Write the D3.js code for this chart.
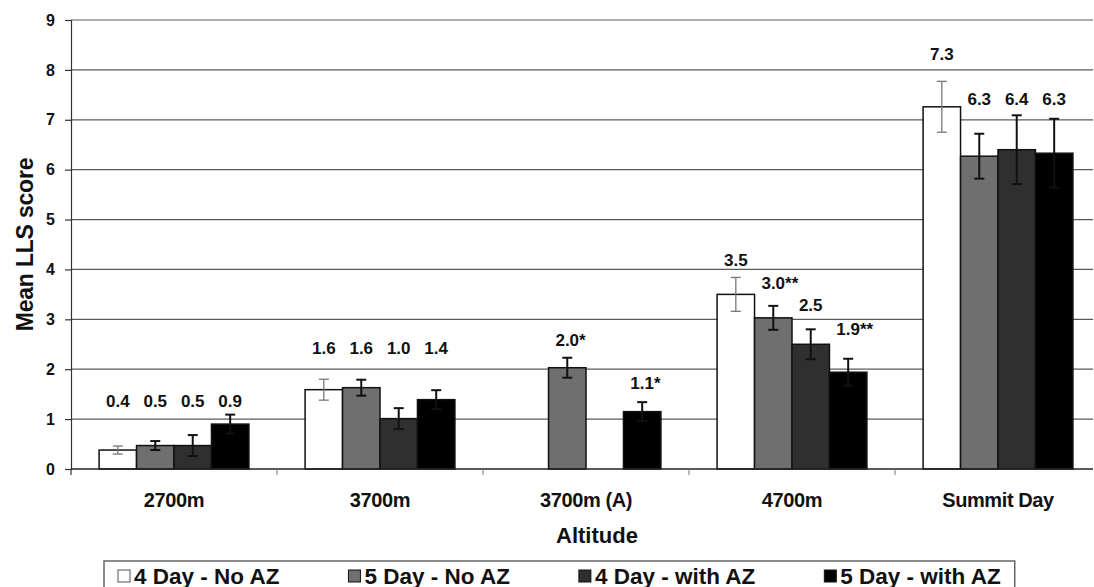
<!DOCTYPE html>
<html>
<head>
<meta charset="utf-8">
<title>Mean LLS score by altitude</title>
<style>
  body { margin: 0; background: #fff; }
  text { font-family: "Liberation Sans", Arial, sans-serif; }
</style>
</head>
<body>
<div id="chart"></div>
<script src="https://cdnjs.cloudflare.com/ajax/libs/d3/7.8.5/d3.min.js"></script>
<script>

// ---- data ----
var categories = ['2700m', '3700m', '3700m (A)', '4700m', 'Summit Day'];
var series = ['4 Day - No AZ', '5 Day - No AZ', '4 Day - with AZ', '5 Day - with AZ'];

// one array per series, one value per category (null = no bar)
var day4NoAZ   = [0.38, 1.59, null, 3.50, 7.26];
var day5NoAZ   = [0.47, 1.63, 2.03, 3.03, 6.27];
var day4WithAZ = [0.47, 1.01, null, 2.50, 6.40];
var day5WithAZ = [0.90, 1.39, 1.15, 1.94, 6.33];

// error (+/-)
var err4NoAZ   = [0.08, 0.21, null, 0.34, 0.51];
var err5NoAZ   = [0.09, 0.16, 0.20, 0.24, 0.45];
var err4WithAZ = [0.21, 0.21, null, 0.30, 0.69];
var err5WithAZ = [0.19, 0.19, 0.19, 0.27, 0.69];

// data labels and the level (in score units) where each one sits
var labels4NoAZ   = ['0.4', '1.6', null, '3.5', '7.3'];
var labels5NoAZ   = ['0.5', '1.6', '2.0*', '3.0**', '6.3'];
var labels4WithAZ = ['0.5', '1.0', null, '2.5', '6.4'];
var labels5WithAZ = ['0.9', '1.4', '1.1*', '1.9**', '6.3'];
var labelLevel4NoAZ   = [1.36, 2.42, null, 4.18, 8.32];
var labelLevel5NoAZ   = [1.36, 2.42, 2.58, 3.72, 7.42];
var labelLevel4WithAZ = [1.36, 2.42, null, 3.28, 7.42];
var labelLevel5WithAZ = [1.36, 2.42, 1.72, 2.80, 7.42];

var yTicks = [0, 1, 2, 3, 4, 5, 6, 7, 8, 9];

var values = [day4NoAZ, day5NoAZ, day4WithAZ, day5WithAZ];
var errors = [err4NoAZ, err5NoAZ, err4WithAZ, err5WithAZ];
var labels = [labels4NoAZ, labels5NoAZ, labels4WithAZ, labels5WithAZ];
var labelLevels = [labelLevel4NoAZ, labelLevel5NoAZ, labelLevel4WithAZ, labelLevel5WithAZ];

var fills = ['#ffffff', '#6f6f6f', '#2f2f2f', '#000000'];

// ---- layout ----
var width = 1094, height = 587;
var plotLeft = 71, plotRight = 1093, plotTop = 20, plotBottom = 469;

var svg = d3.select('#chart').append('svg')
  .attr('width', width)
  .attr('height', height);

var x0 = d3.scaleBand().domain(categories).range([plotLeft, plotLeft + 5 * 206]);
var x1 = d3.scaleBand().domain(d3.range(series.length)).range([0, x0.bandwidth()]).paddingOuter(0.75);
var y = d3.scaleLinear().domain([0, 9]).range([plotBottom, plotTop]);

// gridlines
svg.append('g')
  .selectAll('line')
  .data(yTicks.filter(function(d){ return d > 0; }))
  .enter().append('line')
  .attr('x1', plotLeft).attr('x2', plotRight)
  .attr('y1', function(d){ return y(d); })
  .attr('y2', function(d){ return y(d); })
  .attr('stroke', '#5a5a5a')
  .attr('stroke-width', 1.2);

// y axis
var yAxis = svg.append('g')
  .attr('transform', 'translate(' + plotLeft + ',0)')
  .call(d3.axisLeft(y).tickValues(yTicks).tickSize(6).tickPadding(10).tickFormat(d3.format('d')));
yAxis.select('.domain').attr('stroke', '#333').attr('stroke-width', 1.2);
yAxis.selectAll('.tick line').attr('stroke', '#333').attr('stroke-width', 1.2);
yAxis.selectAll('text')
  .attr('font-size', 16).attr('font-weight', 'bold').attr('fill', '#111')
  .style('font-family', '"Liberation Sans", Arial, sans-serif');

// bars
var flat = [];
categories.forEach(function(c, ci){
  series.forEach(function(s, si){
    flat.push({ cat: c, s: si, v: values[si][ci], e: errors[si][ci],
                label: labels[si][ci], level: labelLevels[si][ci] });
  });
});
var present = flat.filter(function(d){ return d.v !== null; });

svg.append('g')
  .selectAll('rect')
  .data(present)
  .enter().append('rect')
  .attr('x', function(d){ return x0(d.cat) + x1(d.s); })
  .attr('y', function(d){ return y(d.v); })
  .attr('width', x1.bandwidth())
  .attr('height', function(d){ return y(0) - y(d.v); })
  .attr('fill', function(d){ return fills[d.s]; })
  .attr('stroke', '#111')
  .attr('stroke-width', 1.5);

// x axis line and ticks
svg.append('line')
  .attr('x1', plotLeft).attr('x2', plotRight)
  .attr('y1', y(0)).attr('y2', y(0))
  .attr('stroke', '#222').attr('stroke-width', 1.5);

svg.append('g')
  .selectAll('line')
  .data(categories.slice(1))
  .enter().append('line')
  .attr('x1', function(d){ return x0(d); })
  .attr('x2', function(d){ return x0(d); })
  .attr('y1', y(0)).attr('y2', y(0) + 6)
  .attr('stroke', '#777').attr('stroke-width', 1);
svg.append('line')
  .attr('x1', plotLeft).attr('x2', plotLeft)
  .attr('y1', y(0)).attr('y2', y(0) + 6)
  .attr('stroke', '#333').attr('stroke-width', 1.2);

// error bars
var eb = svg.append('g')
  .selectAll('g')
  .data(present)
  .enter().append('g')
  .attr('stroke', function(d){ return d.s === 0 ? '#777' : '#111'; })
  .attr('stroke-width', function(d){ return d.s === 0 ? 1.3 : 2; });
function cx(d){ return x0(d.cat) + x1(d.s) + x1.bandwidth() / 2; }
eb.append('line')
  .attr('x1', cx).attr('x2', cx)
  .attr('y1', function(d){ return y(d.v + d.e); })
  .attr('y2', function(d){ return y(d.v - d.e); });
eb.append('line')
  .attr('x1', function(d){ return cx(d) - 5; })
  .attr('x2', function(d){ return cx(d) + 5; })
  .attr('y1', function(d){ return y(d.v + d.e); })
  .attr('y2', function(d){ return y(d.v + d.e); });
eb.append('line')
  .attr('x1', function(d){ return cx(d) - 5; })
  .attr('x2', function(d){ return cx(d) + 5; })
  .attr('y1', function(d){ return y(d.v - d.e); })
  .attr('y2', function(d){ return y(d.v - d.e); });

// data labels: number centred on the bar, asterisks appended after it
var lab = svg.append('g')
  .selectAll('g')
  .data(present)
  .enter().append('g');
lab.each(function(d){
  var g = d3.select(this);
  var num = d.label.replace(/\*/g, '');
  var stars = d.label.slice(num.length);
  var t = g.append('text')
    .attr('x', cx(d))
    .attr('y', y(d.level) + 6)
    .attr('text-anchor', 'middle')
    .attr('font-size', 17)
    .attr('font-weight', 'bold')
    .attr('fill', '#111')
    .text(num);
  if (stars) {
    var w = t.node().getComputedTextLength();
    g.append('text')
      .attr('x', cx(d) + w / 2)
      .attr('y', y(d.level) + 6)
      .attr('font-size', 17)
      .attr('font-weight', 'bold')
      .attr('fill', '#111')
      .text(stars);
  }
});

// category labels
svg.append('g')
  .selectAll('text')
  .data(categories)
  .enter().append('text')
  .attr('x', function(d){ return x0(d) + x0.bandwidth() / 2; })
  .attr('y', 507)
  .attr('text-anchor', 'middle')
  .attr('font-size', 20)
  .attr('font-weight', 'bold')
  .attr('letter-spacing', -0.4)
  .attr('fill', '#111')
  .text(function(d){ return d; });

// axis titles
svg.append('text')
  .attr('x', 597)
  .attr('y', 543)
  .attr('text-anchor', 'middle')
  .attr('font-size', 22)
  .attr('font-weight', 'bold')
  .attr('fill', '#111')
  .text('Altitude');

svg.append('text')
  .attr('transform', 'translate(' + 33 + ',' + ((plotTop + plotBottom) / 2) + ') rotate(-90)')
  .attr('text-anchor', 'middle')
  .attr('font-size', 23)
  .attr('font-weight', 'bold')
  .attr('letter-spacing', -0.2)
  .attr('fill', '#111')
  .text('Mean LLS score');

// legend
var legend = svg.append('g');
var lgBox = legend.append('rect')
  .attr('y', 561)
  .attr('height', 60)
  .attr('fill', '#fff')
  .attr('stroke', '#666')
  .attr('stroke-width', 1.5);

var lx = 118;
series.forEach(function(s, i){
  legend.append('rect')
    .attr('x', lx).attr('y', 570)
    .attr('width', 12).attr('height', 12)
    .attr('fill', fills[i])
    .attr('stroke', i === 0 ? '#555' : '#111')
    .attr('stroke-width', 1);
  var t = legend.append('text')
    .attr('x', lx + 16)
    .attr('y', 584)
    .attr('font-size', 22.5)
    .attr('font-weight', 'bold')
    .attr('fill', '#111')
    .text(s);
  lx = lx + 16 + t.node().getComputedTextLength() + 69;
});
lgBox.attr('x', 104).attr('width', lx - 69 + 14 - 104);

</script>
</body>
</html>
